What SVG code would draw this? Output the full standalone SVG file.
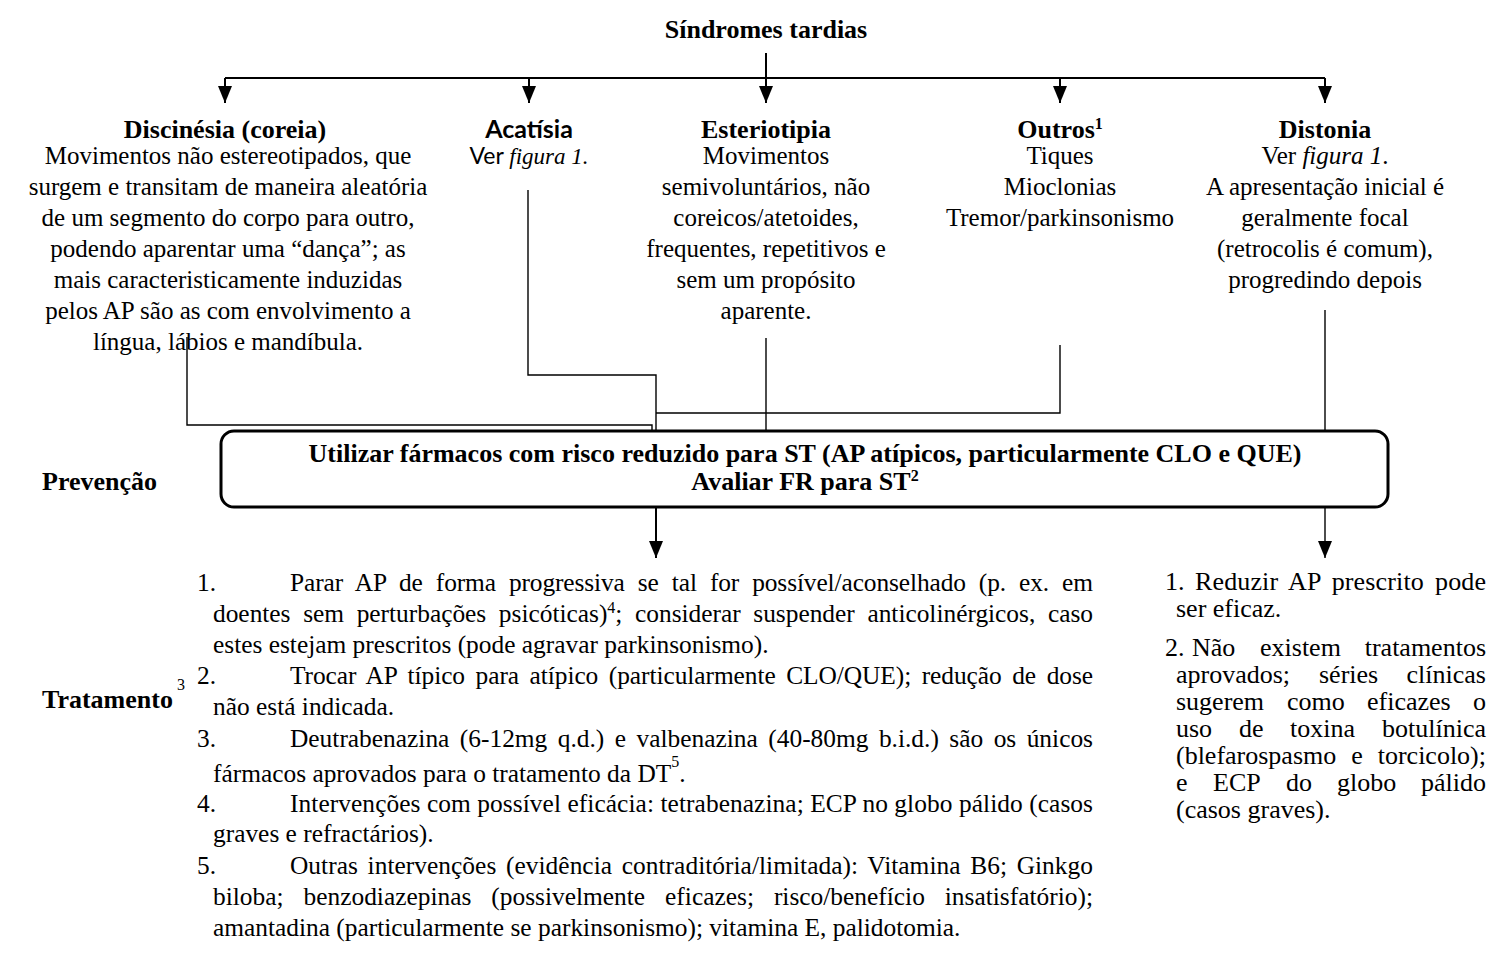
<svg xmlns="http://www.w3.org/2000/svg" width="1491" height="965" viewBox="0 0 1491 965">
<style>
  text { font-family: "Liberation Serif", "Times New Roman", serif; fill: #000; }
  .b { font-weight: bold; }
  .c { text-anchor: middle; }
  .e { text-anchor: end; }
  .hd { font-size: 26px; font-weight: bold; }
  .nd { font-size: 25px; text-anchor: middle; }
  .sans { font-family: Lato, "Liberation Sans", sans-serif; }
  .it { font-style: italic; }
  .li { font-size: 25.4px; }
  .ri { font-size: 26px; }
  .sup { font-size: 16px; }
  .ln { fill: none; stroke: #000; stroke-width: 1.4; }
  .ln2 { fill: none; stroke: #000; stroke-width: 2; }
  .box { fill: #fff; stroke: #000; stroke-width: 3; }
</style>
<defs>
  <marker id="ah" viewBox="0 0 17 14" markerWidth="17" markerHeight="14" refX="17" refY="7" orient="auto" markerUnits="userSpaceOnUse">
    <path d="M0,0 L17,7 L0,14 z" fill="#000"/>
  </marker>
</defs>
<rect width="1491" height="965" fill="#fff"/>

<!-- connectors -->
<g id="connectors">
  <path class="ln2" d="M225 78 H1325"/>
  <path class="ln2" d="M766 53 V103" marker-end="url(#ah)"/>
  <path class="ln2" d="M225 78 V103" marker-end="url(#ah)"/>
  <path class="ln2" d="M529 78 V103" marker-end="url(#ah)"/>
  <path class="ln2" d="M1060 78 V103" marker-end="url(#ah)"/>
  <path class="ln2" d="M1325 78 V103" marker-end="url(#ah)"/>
  <path class="ln" d="M187 337 V425 H652 V431"/>
  <path class="ln" d="M528 190 V375 H656 V431"/>
  <path class="ln" d="M1060 345 V413 H656"/>
  <path class="ln" d="M766 338 V431"/>
  <path class="ln" d="M1325 310 V431"/>
  <path class="ln2" d="M656 507 V558" marker-end="url(#ah)"/>
  <path class="ln" d="M1325 507 V558" marker-end="url(#ah)"/>
</g>

<!-- title -->
<g id="title">
  <text class="hd c" x="766" y="38">Síndromes tardias</text>
</g>

<!-- syndrome nodes -->
<g id="node-discinesia">
  <text class="hd c" x="225" y="138">Discinésia (coreia)</text>
  <text class="nd" x="228" y="164">Movimentos não estereotipados, que</text>
  <text class="nd" x="228" y="195">surgem e transitam de maneira aleatória</text>
  <text class="nd" x="228" y="226">de um segmento do corpo para outro,</text>
  <text class="nd" x="228" y="257">podendo aparentar uma “dança”; as</text>
  <text class="nd" x="228" y="288">mais caracteristicamente induzidas</text>
  <text class="nd" x="228" y="319">pelos AP são as com envolvimento a</text>
  <text class="nd" x="228" y="350">língua, lábios e mandíbula.</text>
</g>

<g id="node-acatisia">
  <text class="c sans b" x="529" y="138" font-size="25">Acatísia</text>
  <text class="c" x="529" y="164" font-size="23"><tspan class="sans">Ver </tspan><tspan class="it">figura 1.</tspan></text>
</g>

<g id="node-esteriotipia">
  <text class="hd c" x="766" y="138">Esteriotipia</text>
  <text class="nd" x="766" y="164">Movimentos</text>
  <text class="nd" x="766" y="195">semivoluntários, não</text>
  <text class="nd" x="766" y="226">coreicos/atetoides,</text>
  <text class="nd" x="766" y="257">frequentes, repetitivos e</text>
  <text class="nd" x="766" y="288">sem um propósito</text>
  <text class="nd" x="766" y="319">aparente.</text>
</g>

<g id="node-outros">
  <text class="hd c" x="1060" y="138">Outros<tspan class="sup" dy="-9">1</tspan></text>
  <text class="nd" x="1060" y="164">Tiques</text>
  <text class="nd" x="1060" y="195">Mioclonias</text>
  <text class="nd" x="1060" y="226">Tremor/parkinsonismo</text>
</g>

<g id="node-distonia">
  <text class="hd c" x="1325" y="138">Distonia</text>
  <text class="nd" x="1325" y="164">Ver <tspan class="it">figura 1</tspan>.</text>
  <text class="nd" x="1325" y="195">A apresentação inicial é</text>
  <text class="nd" x="1325" y="226">geralmente focal</text>
  <text class="nd" x="1325" y="257">(retrocolis é comum),</text>
  <text class="nd" x="1325" y="288">progredindo depois</text>
</g>

<!-- prevention -->
<g id="label-prevencao">
  <text class="hd" x="42" y="490">Prevenção</text>
</g>
<g id="node-prevencao">
  <rect class="box" x="221" y="431" width="1167" height="76" rx="13"/>
  <text class="hd c" x="805" y="462">Utilizar fármacos com risco reduzido para ST (AP atípicos, particularmente CLO e QUE)</text>
  <text class="hd c" x="805" y="490">Avaliar FR para ST<tspan class="sup" dy="-9">2</tspan></text>
</g>

<!-- treatment -->
<g id="label-tratamento">
  <text class="hd" x="42" y="708">Tratamento</text>
  <text x="177" y="690" font-size="16">3</text>
</g>

<g id="node-tratamento-dt">
  <text class="li" x="197" y="591">1.</text>
  <text class="li" x="290" y="591" word-spacing="6.8" textLength="803" lengthAdjust="spacing">Parar AP de forma progressiva se tal for possível/aconselhado (p. ex. em</text>
  <text class="li" x="213" y="622" word-spacing="6.3" textLength="880" lengthAdjust="spacing">doentes sem perturbações psicóticas)<tspan class="sup" dy="-9">4</tspan><tspan dy="9">; considerar suspender anticolinérgicos, caso</tspan></text>
  <text class="li" x="213" y="653">estes estejam prescritos (pode agravar parkinsonismo).</text>
  <text class="li" x="197" y="684">2.</text>
  <text class="li" x="290" y="684" word-spacing="4.3" textLength="803" lengthAdjust="spacing">Trocar AP típico para atípico (particularmente CLO/QUE); redução de dose</text>
  <text class="li" x="213" y="715">não está indicada.</text>
  <text class="li" x="197" y="747">3.</text>
  <text class="li" x="290" y="747" word-spacing="4.1" textLength="803" lengthAdjust="spacing">Deutrabenazina (6-12mg q.d.) e valbenazina (40-80mg b.i.d.) são os únicos</text>
  <text class="li" x="213" y="782">fármacos aprovados para o tratamento da DT<tspan class="sup" dy="-15">5</tspan><tspan dy="15">.</tspan></text>
  <text class="li" x="197" y="812">4.</text>
  <text class="li" x="290" y="812" textLength="803" lengthAdjust="spacing">Intervenções com possível eficácia: tetrabenazina; ECP no globo pálido (casos</text>
  <text class="li" x="213" y="842">graves e refractários).</text>
  <text class="li" x="197" y="874">5.</text>
  <text class="li" x="290" y="874" word-spacing="3.3" textLength="803" lengthAdjust="spacing">Outras intervenções (evidência contraditória/limitada): Vitamina B6; Ginkgo</text>
  <text class="li" x="213" y="905" word-spacing="13.6" textLength="880" lengthAdjust="spacing">biloba; benzodiazepinas (possivelmente eficazes; risco/benefício insatisfatório);</text>
  <text class="li" x="213" y="936">amantadina (particularmente se parkinsonismo); vitamina E, palidotomia.</text>
</g>

<g id="node-tratamento-distonia">
  <text class="ri" x="1165" y="590">1.</text>
  <text class="ri" x="1195" y="590" word-spacing="4.5" textLength="291" lengthAdjust="spacing">Reduzir AP prescrito pode</text>
  <text class="ri" x="1176" y="617">ser eficaz.</text>
  <text class="ri" x="1165" y="656">2.</text>
  <text class="ri" x="1192" y="656">Não</text>
  <text class="ri" x="1260" y="656">existem</text>
  <text class="ri e" x="1486" y="656">tratamentos</text>
  <text class="ri" x="1176" y="683">aprovados;</text>
  <text class="ri" x="1319" y="683">séries</text>
  <text class="ri e" x="1486" y="683">clínicas</text>
  <text class="ri" x="1176" y="710">sugerem</text>
  <text class="ri" x="1287" y="710">como</text>
  <text class="ri" x="1367" y="710">eficazes</text>
  <text class="ri e" x="1486" y="710">o</text>
  <text class="ri" x="1176" y="737">uso</text>
  <text class="ri" x="1239" y="737">de</text>
  <text class="ri" x="1290" y="737">toxina</text>
  <text class="ri e" x="1486" y="737">botulínica</text>
  <text class="ri" x="1176" y="764" word-spacing="8.5" textLength="310" lengthAdjust="spacing">(blefarospasmo e torcicolo);</text>
  <text class="ri" x="1176" y="791">e</text>
  <text class="ri" x="1213" y="791">ECP</text>
  <text class="ri" x="1286" y="791">do</text>
  <text class="ri" x="1337" y="791">globo</text>
  <text class="ri e" x="1486" y="791">pálido</text>
  <text class="ri" x="1176" y="818">(casos graves).</text>
</g>
</svg>
